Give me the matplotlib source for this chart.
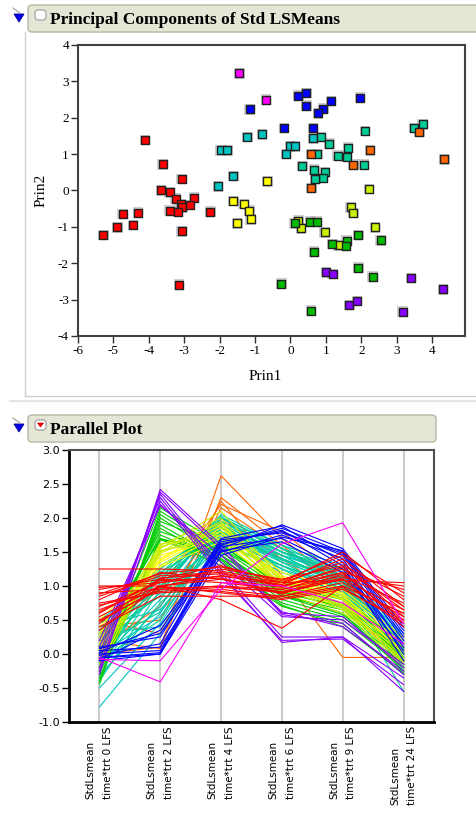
import matplotlib
matplotlib.use("Agg")
import matplotlib.pyplot as plt
from matplotlib.patches import FancyBboxPatch, Polygon
from matplotlib.lines import Line2D

# ---------------- data: principal components scatter ----------------
red_x = [-4.11, -3.61, -3.07, -3.66, -3.41, -3.24, -3.10, -3.05, -2.72, -2.84,
         -3.41, -3.18, -2.26, -4.74, -4.30, -5.28, -4.89, -4.45, -3.07, -3.15]
red_y = [1.39, 0.72, 0.32, 0.00, -0.05, -0.22, -0.37, -0.46, -0.20, -0.40,
         -0.55, -0.59, -0.58, -0.65, -0.61, -1.22, -1.01, -0.95, -1.12, -2.59]
magenta_x = [-1.44, -0.69]
magenta_y = [3.22, 2.50]
blue_x = [-1.15, 0.22, 0.45, 0.45, 1.15, 0.93, 0.78, 1.96, -0.18, 0.64]
blue_y = [2.23, 2.61, 2.68, 2.33, 2.46, 2.25, 2.12, 2.55, 1.72, 1.72]
cyan_x = [-1.97, -1.78, -1.61, -2.05, -1.22, -0.80, 0.65, -0.01, 0.12, -0.13]
cyan_y = [1.10, 1.10, 0.40, 0.11, 1.47, 1.54, 1.43, 1.21, 1.21, 1.00]
teal_x = [0.86, 1.10, 0.76, 1.33, 1.62, 1.59, 2.07, 2.10, 3.50, 3.73,
          0.34, 0.67, 0.97, 0.92, 0.70]
teal_y = [1.47, 1.29, 1.00, 0.96, 1.18, 0.93, 0.71, 1.64, 1.72, 1.82,
          0.67, 0.57, 0.50, 0.34, 0.32]
orange_x = [0.59, 1.78, 2.25, 3.64, 4.35, 0.59]
orange_y = [1.00, 0.71, 1.10, 1.61, 0.86, 0.07]
yellow_x = [-0.65, -1.61, -1.32, -1.16, -1.12, -1.50]
yellow_y = [0.25, -0.29, -0.37, -0.55, -0.79, -0.90]
ygreen_x = [2.22, 1.70, 1.78, 0.22, 0.30, 0.97, 2.39, 1.36]
ygreen_y = [0.04, -0.46, -0.62, -0.83, -1.04, -1.15, -1.01, -1.51]
green_x = [0.12, 0.55, 0.74, 1.92, 2.55, 1.18, 1.59, 1.56, 0.67, 1.92, 2.32, -0.26, 0.58]
green_y = [-0.90, -0.86, -0.86, -1.22, -1.37, -1.47, -1.38, -1.52, -1.68, -2.12, -2.37, -2.56, -3.30]
purple_x = [1.00, 1.19, 1.66, 1.88, 3.40, 4.31, 3.17]
purple_y = [-2.25, -2.30, -3.15, -3.04, -2.40, -2.72, -3.33]

pc_xticks = [-6, -5, -4, -3, -2, -1, 0, 1, 2, 3, 4]
pc_yticks = [-4, -3, -2, -1, 0, 1, 2, 3, 4]

# ---------------- data: parallel plot profiles ----------------
pp_labels = ["StdLsmean\ntime*trt 0 LFS", "StdLsmean\ntime*trt 2 LFS",
             "StdLsmean\ntime*trt 4 LFS", "StdLsmean\ntime*trt 6 LFS",
             "StdLsmean\ntime*trt 9 LFS", "StdLsmean\ntime*trt 24 LFS"]
pp_yticks = [-1.0, -0.5, 0.0, 0.5, 1.0, 1.5, 2.0, 2.5, 3.0]

orange_lines = [
    [0.00, 0.10, 2.62, 1.70, 1.00, -0.10],
    [0.20, 0.08, 2.30, 1.60, 0.90, -0.05],
    [0.40, 0.50, 2.25, 1.15, -0.05, -0.05],
    [0.30, 0.95, 2.20, 1.80, 1.10, 0.10],
    [0.10, 0.70, 2.00, 1.40, 0.80, -0.20],
    [0.50, 0.30, 2.15, 1.55, 1.05, 0.00],
]
cyan_lines = [
    [-0.78, 0.30, 1.70, 1.30, 1.00, -0.20],
    [-0.50, 0.45, 1.80, 1.40, 1.10, -0.10],
    [-0.30, 0.60, 1.90, 1.50, 1.20, 0.00],
    [-0.20, 0.70, 1.85, 1.45, 1.15, 0.10],
    [-0.10, 0.80, 1.95, 1.55, 1.25, 0.20],
    [0.00, 0.55, 1.75, 1.35, 1.05, -0.05],
    [0.10, 0.90, 2.00, 1.60, 1.30, 0.25],
    [0.20, 1.00, 1.90, 1.50, 1.15, 0.15],
    [0.30, 0.40, 1.65, 1.25, 0.95, -0.15],
    [0.40, 0.65, 1.70, 1.40, 1.10, 0.30],
    [0.50, 1.10, 1.80, 1.45, 1.20, 0.05],
]
teal_lines = [
    [-0.40, 0.95, 1.95, 1.55, 1.10, -0.30],
    [-0.25, 1.05, 2.00, 1.50, 1.05, -0.20],
    [-0.15, 1.15, 1.85, 1.40, 0.95, -0.10],
    [-0.05, 1.25, 1.90, 1.35, 0.90, 0.00],
    [0.05, 1.20, 1.75, 1.30, 0.85, -0.05],
    [0.15, 1.30, 1.80, 1.25, 0.80, 0.10],
    [0.25, 0.85, 1.70, 1.45, 1.00, -0.25],
    [-0.35, 0.75, 1.60, 1.30, 0.95, -0.55],
    [0.35, 1.10, 2.05, 1.60, 1.15, 0.20],
    [-0.10, 0.50, 1.85, 1.50, 1.25, 0.00],
    [0.45, 0.95, 1.65, 1.20, 0.90, -0.15],
    [0.00, 1.00, 1.95, 1.45, 1.00, 0.15],
    [-0.20, 1.18, 2.02, 1.55, 1.12, -0.08],
    [0.12, 0.62, 1.78, 1.38, 1.08, 0.08],
]
green_lines = [
    [-0.45, 2.10, 1.55, 0.95, 0.75, 0.00],
    [-0.40, 2.05, 1.50, 0.90, 0.70, -0.05],
    [-0.30, 2.00, 1.45, 0.85, 0.65, -0.10],
    [-0.20, 1.95, 1.60, 1.00, 0.80, 0.05],
    [-0.10, 1.90, 1.40, 0.80, 0.55, -0.15],
    [0.00, 1.85, 1.35, 0.75, 0.50, -0.20],
    [0.10, 1.80, 1.50, 0.88, 0.60, -0.25],
    [0.20, 1.70, 1.45, 0.92, 0.68, 0.00],
    [0.30, 1.68, 1.40, 0.85, 0.58, -0.10],
    [-0.35, 1.70, 1.30, 0.70, 0.45, -0.30],
    [-0.25, 1.68, 1.55, 1.05, 0.85, 0.10],
    [0.05, 1.75, 1.38, 0.72, 0.40, -0.28],
    [-0.15, 2.15, 1.62, 0.98, 0.72, -0.05],
]
yellow_lines = [
    [0.50, 1.35, 1.80, 1.15, 0.90, 0.20],
    [0.40, 1.30, 1.75, 1.10, 0.85, 0.15],
    [0.30, 1.40, 1.90, 1.20, 0.95, 0.25],
    [0.20, 1.45, 1.70, 1.05, 0.80, 0.10],
    [0.10, 1.28, 1.65, 1.00, 0.75, 0.05],
    [0.00, 1.38, 1.85, 1.12, 0.88, 0.00],
]
ygreen_lines = [
    [-0.10, 1.55, 2.10, 1.10, 0.80, -0.05],
    [-0.20, 1.60, 2.00, 1.05, 0.75, -0.10],
    [-0.25, 1.50, 1.95, 1.00, 0.70, -0.15],
    [0.05, 1.58, 1.80, 0.95, 0.65, -0.20],
    [-0.05, 1.52, 1.70, 0.90, 0.60, 0.05],
    [0.15, 1.62, 1.75, 1.00, 0.72, -0.08],
    [-0.15, 1.48, 1.88, 1.08, 0.82, 0.10],
    [0.25, 1.56, 1.92, 0.98, 0.68, -0.12],
]
purple_lines = [
    [-0.30, 2.42, 1.60, 0.60, 0.55, -0.20],
    [-0.20, 2.38, 1.55, 0.58, 0.45, -0.30],
    [-0.10, 2.35, 1.25, 0.25, 0.25, -0.35],
    [0.00, 2.30, 1.20, 0.17, 0.25, -0.55],
    [0.10, 2.20, 1.35, 0.55, 0.50, -0.15],
    [0.20, 2.18, 1.45, 0.62, 0.40, -0.25],
    [-0.25, 2.25, 1.15, 0.20, 0.22, -0.45],
]
blue_lines = [
    [-0.10, 0.00, 1.55, 1.90, 1.55, 0.40],
    [-0.05, 0.02, 1.60, 1.85, 1.50, 0.30],
    [0.00, 0.05, 1.65, 1.80, 1.45, 0.20],
    [0.05, 0.10, 1.50, 1.75, 1.40, 0.10],
    [0.10, 0.25, 1.70, 1.88, 1.35, 0.00],
    [-0.08, 0.35, 1.62, 1.82, 1.30, -0.10],
    [0.02, 0.42, 1.58, 1.70, 1.25, 0.15],
    [-0.02, 0.15, 1.68, 1.78, 1.48, 0.25],
    [0.08, 0.30, 1.52, 1.65, 1.20, 0.05],
    [-0.06, 0.00, 1.45, 1.72, 1.52, 0.35],
]
red_lines = [
    [1.25, 1.25, 1.22, 1.05, 1.08, 1.05],
    [1.00, 1.00, 1.15, 1.00, 1.20, 0.95],
    [0.98, 1.05, 1.25, 1.10, 1.30, 0.85],
    [0.95, 1.10, 1.30, 1.05, 1.50, 0.80],
    [0.90, 0.95, 1.00, 0.95, 1.15, 0.75],
    [0.85, 1.15, 1.20, 1.00, 1.25, 0.70],
    [0.80, 1.20, 1.10, 0.90, 1.10, 0.65],
    [0.75, 0.90, 0.95, 0.85, 1.00, 0.60],
    [0.70, 1.05, 1.15, 1.05, 1.35, 0.55],
    [0.65, 1.00, 0.90, 0.80, 0.95, 0.50],
    [0.60, 1.10, 1.05, 0.95, 1.20, 0.45],
    [0.55, 1.00, 0.80, 0.38, 1.00, 0.60],
    [0.50, 0.95, 1.00, 0.90, 1.10, 0.40],
    [0.45, 1.12, 1.18, 1.02, 1.40, 0.70],
    [0.40, 0.85, 0.85, 0.85, 1.05, 0.55],
    [0.35, 1.00, 1.10, 0.98, 1.28, 0.65],
    [0.88, 1.18, 1.28, 1.08, 1.45, 0.90],
    [0.72, 0.92, 0.98, 0.92, 1.12, 1.00],
    [0.62, 1.08, 1.12, 0.88, 1.18, 0.50],
    [0.48, 0.98, 0.92, 0.82, 0.98, 0.45],
]
magenta_lines = [
    [-0.08, -0.10, 0.95, 1.62, 1.93, 0.45],
    [-0.05, -0.41, 1.05, 1.00, 0.75, 0.15],
]

# ---------------- colours ----------------
C_RED = "#FF0000"
C_ORANGE = "#FF6600"
C_YELLOW = "#FFFF00"
C_YGREEN = "#CCEE00"
C_GREEN = "#00BB00"
C_TEAL = "#00CC99"
C_CYAN = "#00C4C4"
C_BLUE = "#0000FF"
C_PURPLE = "#8800FF"
C_MAGENTA = "#FF00FF"

SERIF = ["Liberation Serif", "DejaVu Serif"]
SANS = ["DejaVu Sans"]

W, H = 476, 813
fig = plt.figure(figsize=(W / 100, H / 100), dpi=100)
fig.patch.set_facecolor("white")

# background decoration axes in pixel coordinates
bg = fig.add_axes([0, 0, 1, 1])
bg.set_xlim(0, W)
bg.set_ylim(H, 0)
bg.axis("off")
bg.set_zorder(0)

HEAD_FC = "#E6E6D6"
HEAD_EC = "#B8B8A4"

def header(x0, y0, w, h, title, red_button):
    bg.add_patch(FancyBboxPatch((x0, y0), w, h,
                                boxstyle="round,pad=0,rounding_size=4",
                                fc=HEAD_FC, ec=HEAD_EC, lw=1.0))
    bg.add_patch(FancyBboxPatch((x0 + 7, y0 + 5), 11, 10,
                                boxstyle="round,pad=0,rounding_size=3",
                                fc="white", ec="#9A9A9A", lw=0.8))
    if red_button:
        bg.add_patch(Polygon([(x0 + 9.5, y0 + 8), (x0 + 15.5, y0 + 8), (x0 + 12.5, y0 + 12)],
                             closed=True, fc="#FF0000", ec="#CC0000", lw=0.5))
    # disclosure triangle
    bg.add_patch(Polygon([(x0 - 14, y0 + 9), (x0 - 4, y0 + 9), (x0 - 9, y0 + 17)],
                         closed=True, fc="#0000EE", ec="#000088", lw=0.6))
    bg.add_line(Line2D([x0 - 15, x0 - 8], [y0 + 3, y0 + 8], color="#A0A0A0", lw=0.8))
    bg.text(x0 + 22, y0 + h / 2 + 1, title, fontfamily=SERIF, fontweight="bold",
            fontsize=12.5, ha="left", va="center", color="black")

header(28, 5, 470, 27, "Principal Components of Std LSMeans", False)
# top panel outline
bg.add_line(Line2D([25, 25], [32, 396], color="#D0D0D0", lw=1.0))
bg.add_line(Line2D([25, W], [396, 396], color="#D0D0D0", lw=1.0))
bg.add_line(Line2D([10, W], [401, 401], color="#E4E4E4", lw=1.5))
header(28, 415, 408, 27, "Parallel Plot", True)

# ---------------- top: scatter ----------------
ax1 = fig.add_axes([78 / W, 1 - 336 / H, 387 / W, 291 / H])
ax1.set_zorder(2)
groups = [
    (red_x, red_y, C_RED), (magenta_x, magenta_y, C_MAGENTA),
    (blue_x, blue_y, C_BLUE), (cyan_x, cyan_y, C_CYAN),
    (teal_x, teal_y, C_TEAL), (orange_x, orange_y, C_ORANGE),
    (yellow_x, yellow_y, C_YELLOW), (ygreen_x, ygreen_y, C_YGREEN),
    (green_x, green_y, C_GREEN), (purple_x, purple_y, C_PURPLE),
]
for gx, gy, col in groups:
    ax1.scatter(gx, gy, marker="s", s=58, c="#B0B0B0", edgecolors="none", alpha=0.6, zorder=2)
    ax1.scatter(gx, gy, marker="s", s=32, c=col, edgecolors="#202020", linewidths=1.0, zorder=3)
ax1.set_xlim(-6, 4.93)
ax1.set_ylim(-4, 4)
ax1.set_xticks(pc_xticks)
ax1.set_yticks(pc_yticks)
ax1.set_xticklabels([str(v) for v in pc_xticks], fontfamily=SERIF, fontsize=9.5)
ax1.set_yticklabels([str(v) for v in pc_yticks], fontfamily=SERIF, fontsize=9.5)
ax1.tick_params(direction="out", length=5, width=1.0, colors="#303030", labelcolor="black", pad=1.5)
for sp in ax1.spines.values():
    sp.set_color("#404040")
    sp.set_linewidth(1.5)
bg.text(265, 376, "Prin1", fontfamily=SERIF, fontsize=11, ha="center", va="center")
bg.text(41, 190, "Prin2", fontfamily=SERIF, fontsize=11, ha="center", va="center", rotation=90)

# ---------------- bottom: parallel plot ----------------
ax2 = fig.add_axes([69 / W, 1 - 722 / H, 365 / W, 272 / H])
ax2.set_zorder(2)
xs = list(range(len(pp_labels)))
for xv in xs:
    ax2.axvline(xv, color="#CCCCCC", lw=1.5, zorder=1)
line_groups = [
    (orange_lines, C_ORANGE), (cyan_lines, C_CYAN), (teal_lines, C_TEAL),
    (green_lines, "#00CC00"), (yellow_lines, C_YELLOW), (ygreen_lines, C_YGREEN),
    (purple_lines, C_PURPLE), (blue_lines, C_BLUE), (red_lines, C_RED),
    (magenta_lines, C_MAGENTA),
]
for lines, col in line_groups:
    for prof in lines:
        ax2.plot(xs, prof, color=col, lw=0.8, zorder=2)
ax2.set_xlim(-0.5, 5.5)
ax2.set_ylim(-1.0, 3.0)
ax2.set_yticks(pp_yticks)
ax2.set_yticklabels(["%.1f" % v for v in pp_yticks], fontfamily=SANS, fontsize=8)
ax2.set_xticks(xs)
ax2.set_xticklabels(pp_labels, rotation=90, ha="center", va="top",
                    multialignment="left", linespacing=1.9,
                    fontfamily=SANS, fontsize=7.5)
ax2.tick_params(axis="y", direction="out", length=5, width=1.0, pad=1.5)
ax2.tick_params(axis="x", length=0, pad=3)
for name, sp in ax2.spines.items():
    if name in ("left", "bottom"):
        sp.set_color("black")
        sp.set_linewidth(2.0)
    else:
        sp.set_color("#505050")
        sp.set_linewidth(1.5)

fig.savefig("out.png", dpi=100)
